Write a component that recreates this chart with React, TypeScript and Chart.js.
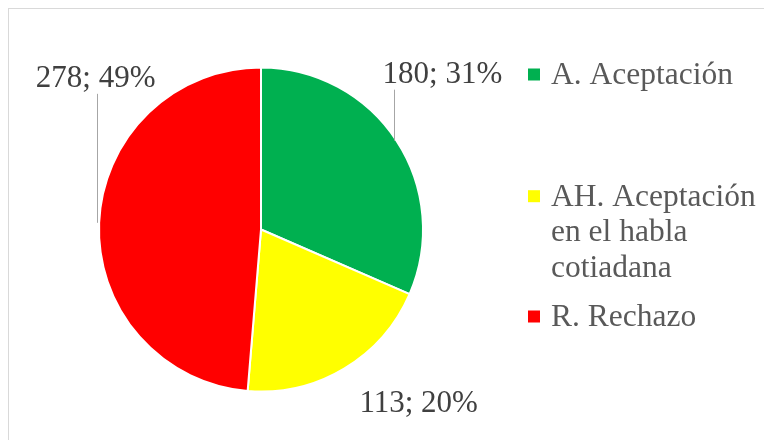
import React, { useEffect, useRef } from "react";
import { Chart, registerables } from "chart.js";

Chart.register(...registerables);

// ---- Data ----
const categories = ["A. Aceptación", "AH. Aceptación en el habla cotiadana", "R. Rechazo"];
const values = [180, 113, 278];
const percentLabels = ["31%", "20%", "49%"];
const colors = ["#00B050", "#FFFF00", "#FF0000"];

// ---- Layout / style constants ----
const FONT = '31px "Liberation Serif", "Times New Roman", serif';
const LEGEND_FONT = '31.5px "Liberation Serif", "Times New Roman", serif';
const LABEL_COLOR = "#404040";
const LEGEND_COLOR = "#595959";
const LEADER_COLOR = "#a6a6a6";
// label placement relative to the outer midpoint of each slice: [dx, baseline dy]
const labelOffsets = [
  [46, -58],
  [74.5, 43],
  [-3.5, -136],
];
const labelLeaders = [true, false, true];
// legend layout (canvas coords)
const legendMarkerX = 519;
const legendTextX = 542;
const legendBaselines = [75, 196.7, 317];
const legendLineHeight = 35.7;
const legendMaxWidth = 220;

function wrapText(ctx: CanvasRenderingContext2D, text: string, maxWidth: number): string[] {
  const words = text.split(" ");
  const lines: string[] = [];
  let cur = "";
  for (const w of words) {
    const test = cur ? cur + " " + w : w;
    if (cur && ctx.measureText(test).width > maxWidth) {
      lines.push(cur);
      cur = w;
    } else {
      cur = test;
    }
  }
  if (cur) lines.push(cur);
  return lines;
}

const labelPlugin = {
  id: "excelLabels",
  afterDatasetsDraw(chart: any) {
    const ctx: CanvasRenderingContext2D = chart.ctx;
    const meta = chart.getDatasetMeta(0);
    ctx.save();
    ctx.font = FONT;
    ctx.textAlign = "center";
    ctx.textBaseline = "alphabetic";
    meta.data.forEach((arc: any, i: number) => {
      const p = arc.getProps(["x", "y", "startAngle", "endAngle", "outerRadius"], true);
      const mid = (p.startAngle + p.endAngle) / 2;
      const ax = p.x + Math.cos(mid) * p.outerRadius;
      const ay = p.y + Math.sin(mid) * p.outerRadius;
      const lx = ax + labelOffsets[i][0];
      const ly = ay + labelOffsets[i][1];
      if (labelLeaders[i]) {
        const x = Math.round(ax) - 1.5;
        ctx.strokeStyle = LEADER_COLOR;
        ctx.lineWidth = 1;
        ctx.beginPath();
        ctx.moveTo(x, ay);
        ctx.lineTo(x, ly + 7);
        ctx.stroke();
      }
      ctx.fillStyle = LABEL_COLOR;
      ctx.fillText(`${values[i]}; ${percentLabels[i]}`, lx, ly);
    });
    ctx.restore();
  },
};

const legendPlugin = {
  id: "excelLegend",
  afterDraw(chart: any) {
    const ctx: CanvasRenderingContext2D = chart.ctx;
    ctx.save();
    ctx.font = LEGEND_FONT;
    ctx.textAlign = "left";
    ctx.textBaseline = "alphabetic";
    categories.forEach((cat, i) => {
      const base = legendBaselines[i];
      ctx.fillStyle = colors[i];
      ctx.fillRect(legendMarkerX, base - 15.5, 12, 12);
      const lines = wrapText(ctx, cat, legendMaxWidth);
      ctx.fillStyle = LEGEND_COLOR;
      lines.forEach((ln, j) => {
        ctx.fillText(ln, legendTextX, base + j * legendLineHeight);
      });
    });
    ctx.restore();
  },
};

export default function App() {
  const canvasRef = useRef<HTMLCanvasElement | null>(null);

  useEffect(() => {
    if (!canvasRef.current) return;
    const chart = new Chart(canvasRef.current, {
      type: "pie",
      data: {
        labels: categories,
        datasets: [
          {
            data: values,
            backgroundColor: colors,
            borderColor: "#ffffff",
            borderWidth: 2,
            hoverOffset: 0,
            radius: 162,
          } as any,
        ],
      },
      options: {
        animation: false,
        responsive: true,
        maintainAspectRatio: false,
        devicePixelRatio: 1,
        layout: { padding: { left: 90, right: 349, top: 58.5, bottom: 48.5 } },
        plugins: {
          legend: { display: false },
          tooltip: { enabled: false },
        },
        events: [],
      } as any,
      plugins: [labelPlugin, legendPlugin],
    });
    return () => chart.destroy();
  }, []);

  return (
    <div
      style={{
        width: 764,
        height: 432,
        boxSizing: "border-box",
        borderTop: "1px solid #d9d9d9",
        borderLeft: "1px solid #d9d9d9",
        background: "#ffffff",
      }}
    >
      <div style={{ position: "relative", width: 763, height: 431 }}>
        <canvas ref={canvasRef} />
      </div>
    </div>
  );
}
